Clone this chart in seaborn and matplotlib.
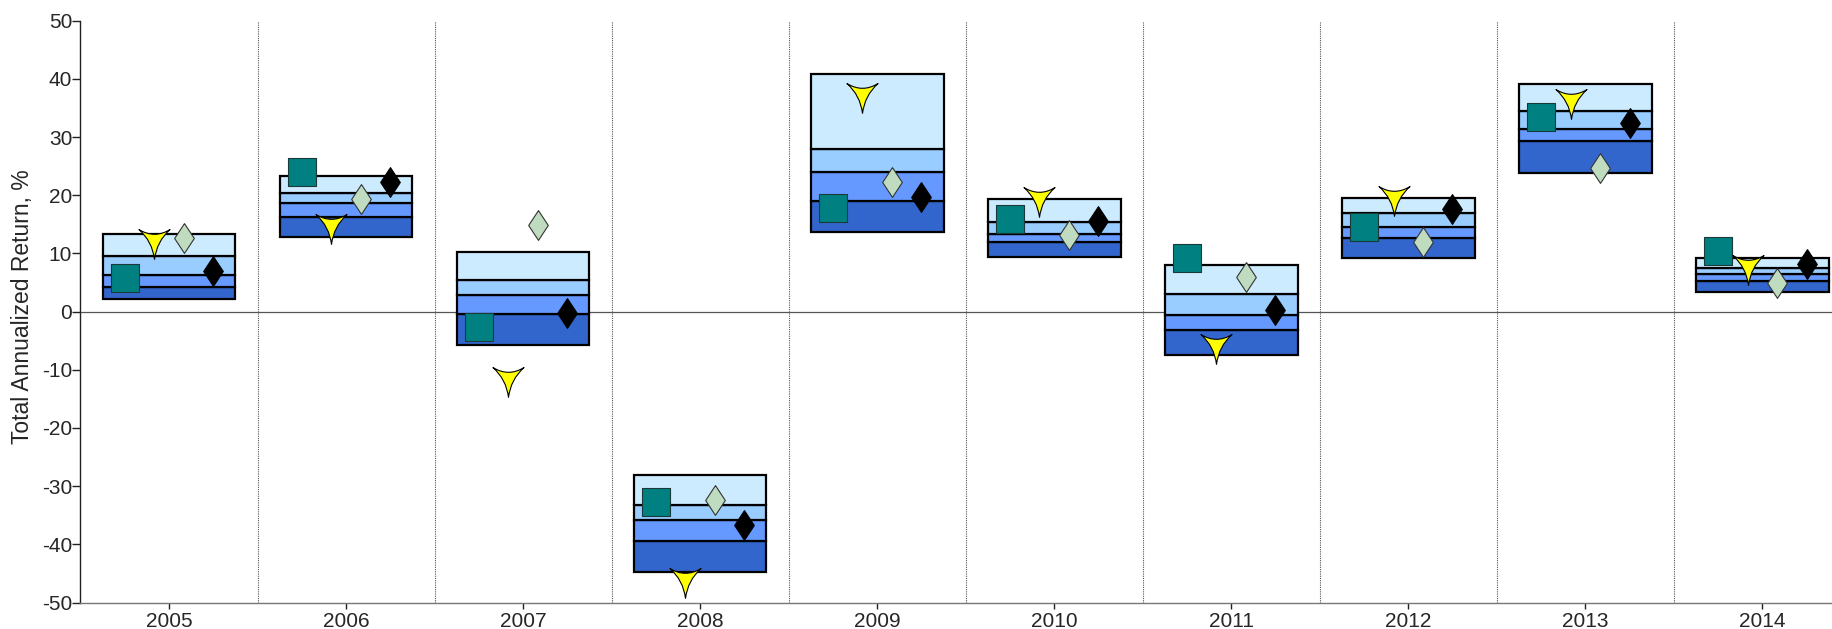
import numpy as np
import pandas as pd
import matplotlib
matplotlib.use('Agg')
import matplotlib.pyplot as plt
from matplotlib.path import Path
import seaborn as sns

years = ['2005', '2006', '2007', '2008', '2009', '2010', '2011', '2012', '2013', '2014']

# percentile bands of the peer group
p05 = [2.2, 12.8, -5.7, -44.8, 13.6, 9.3, -7.4, 9.2, 23.9, 3.4]
p25 = [4.3, 16.3, -0.4, -39.5, 19.0, 11.9, -3.1, 12.7, 29.3, 5.2]
p50 = [6.3, 18.6, 2.9, -35.9, 24.0, 13.3, -0.6, 14.6, 31.4, 6.5]
p75 = [9.6, 20.3, 5.5, -33.2, 28.0, 15.4, 3.1, 17.0, 34.5, 7.5]
p95 = [13.3, 23.3, 10.3, -28.0, 40.8, 19.3, 8.0, 19.6, 39.2, 9.2]

# marker series
square_vals = [5.7, 24.0, -2.7, -32.8, 17.8, 16.0, 9.2, 14.5, 33.4, 10.4]
star_vals = [12.5, 15.1, -11.2, -45.8, 37.5, 19.7, -5.6, 19.8, 36.5, 8.0]
light_vals = [12.7, 19.3, 14.8, -32.4, 22.2, 13.2, 6.0, 12.0, 24.6, 4.9]
black_vals = [7.0, 22.2, -0.2, -36.7, 19.7, 15.5, 0.3, 17.6, 32.5, 8.1]

sns.set_style('white')
plt.rcParams['font.family'] = ['Liberation Sans', 'DejaVu Sans']
plt.rcParams['axes.unicode_minus'] = False

fig = plt.figure(figsize=(18.32, 6.29), dpi=100)
ax = fig.add_axes([0.04394, 0.04213, 0.96632, 0.92496])

x = np.arange(len(years))
band_colors = ['#3366CC', '#6699FF', '#99CCFF', '#CCEBFF']
lows = [p05, p25, p50, p75]
highs = [p25, p50, p75, p95]
for lo, hi, c in zip(lows, highs, band_colors):
    lo = np.array(lo)
    hi = np.array(hi)
    ax.bar(x, hi - lo, bottom=lo, width=0.75, color=c,
           edgecolor='black', linewidth=1.6, zorder=2)

# concave three-pointed star
star = Path([(0, -1), (0.11, -0.09), (0.78, 0.5),
             (0, 0.02), (-0.78, 0.5), (-0.11, -0.09), (0, -1)],
            [Path.MOVETO, Path.CURVE3, Path.CURVE3,
             Path.CURVE3, Path.CURVE3, Path.CURVE3, Path.CURVE3])
diamond = [(0, 1), (0.66, 0), (0, -1), (-0.66, 0), (0, 1)]

df = pd.DataFrame({'x': x, 'square': square_vals, 'star': star_vals,
                   'light': light_vals, 'black': black_vals})

sns.scatterplot(x=df['x'] - 0.25, y=df['square'], marker='s', s=430,
                color='#008080', edgecolor='#1a3a3a', linewidth=0.8,
                ax=ax, zorder=4)
sns.scatterplot(x=df['x'] - 0.083, y=df['star'], marker=star, s=820,
                color='#FFFF00', edgecolor='black', linewidth=0.8,
                ax=ax, zorder=4)
sns.scatterplot(x=df['x'] + 0.083, y=df['light'], marker=diamond, s=460,
                color='#C0DCC0', edgecolor='#333333', linewidth=0.8,
                ax=ax, zorder=4)
sns.scatterplot(x=df['x'] + 0.25, y=df['black'], marker=diamond, s=460,
                color='black', edgecolor='black', linewidth=0.8,
                ax=ax, zorder=4)

ax.axhline(0, color='#555555', linewidth=0.9, zorder=1)
for sep in np.arange(0.5, len(years), 1.0):
    ax.axvline(sep, color='#555555', linestyle=(0, (1, 1)), linewidth=0.8, zorder=1)

ax.set_xlim(-0.5, len(years) - 0.5)
ax.set_ylim(-50, 50)
ax.set_yticks(np.arange(-50, 51, 10))
ax.set_xticks(x)
ax.set_xticklabels(years)

for s in ['top', 'right']:
    ax.spines[s].set_visible(False)
ax.spines['left'].set_color('#222222')
ax.spines['bottom'].set_color('#777777')
ax.spines['left'].set_linewidth(1.0)
ax.spines['bottom'].set_linewidth(1.0)

ax.tick_params(axis='y', direction='out', length=5.5, width=1.0, color='#222222',
               labelsize=15, pad=0.5, left=True)
ax.tick_params(axis='x', direction='out', length=4.5, width=1.0, color='#222222',
               labelsize=15, pad=2, bottom=True)

ax.set_ylabel('Total Annualized Return, %', fontsize=16.5)
ax.yaxis.set_label_coords(-0.026, 0.508)
ax.set_xlabel('')
ax.grid(False)

fig.savefig('out.png', dpi=100)
